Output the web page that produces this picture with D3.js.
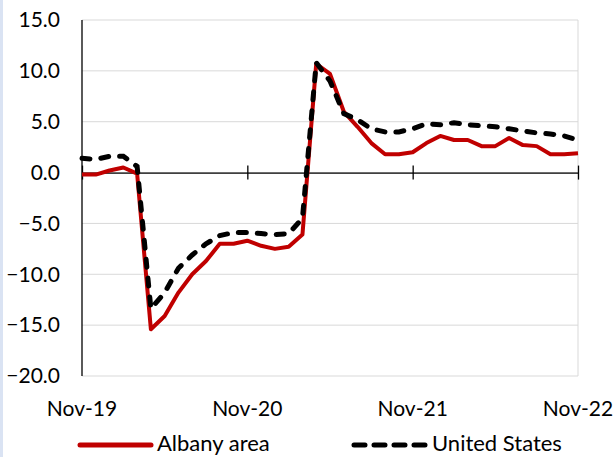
<!DOCTYPE html>
<html>
<head>
<meta charset="utf-8">
<script src="https://cdn.jsdelivr.net/npm/d3@7"></script>
<style>
    body { margin: 0; background: #fff; }
    svg { display: block; font-family: Lato, "Open Sans", sans-serif; }
</style>
</head>
<body>
<script>
//month labels shown on the x axis
var monthTicks = ["Nov-19", "Nov-20", "Nov-21", "Nov-22"];

//y axis tick values
var yTicks = [-20, -15, -10, -5, 0, 5, 10, 15];

//series names
var seriesNames = ["Albany area", "United States"];

//monthly values, Nov-19 to Nov-22
var albany = [-0.2, -0.2, 0.2, 0.5, -0.1, -15.4, -14.1, -11.8, -10.0, -8.7,
    -7.0, -7.0, -6.7, -7.2, -7.5, -7.3, -6.1, 10.7, 9.7, 6.0,
    4.5, 2.9, 1.8, 1.8, 2.0, 2.9, 3.6, 3.2, 3.2, 2.6,
    2.6, 3.4, 2.7, 2.6, 1.8, 1.8, 1.9];

var unitedStates = [1.4, 1.3, 1.6, 1.6, 0.6, -13.4, -11.8, -9.4, -8.1, -7.0,
    -6.2, -5.9, -5.9, -6.0, -6.1, -6.0, -4.5, 10.8, 9.0, 5.8,
    5.2, 4.3, 4.0, 4.0, 4.3, 4.8, 4.7, 4.9, 4.7, 4.6,
    4.5, 4.3, 4.1, 3.9, 3.8, 3.6, 3.2];

function init() {
    var svg, xScale, yScale, line, legend;

    //plot area edges
    var left = 82, right = 578, top = 20, bottom = 376;

    svg = d3.select("body")
        .append("svg")
        .attr("width", 616)
        .attr("height", 457);

    //light blue strip on the left edge
    svg.append("rect")
        .attr("x", 0).attr("y", 0)
        .attr("width", 3).attr("height", 457)
        .style("fill", "#dae3f3");

    //x scale, one step per month
    xScale = d3.scaleLinear()
        .domain([0, albany.length - 1])
        .range([left, right]);

    //y scale
    yScale = d3.scaleLinear()
        .domain([-20, 15])
        .range([bottom, top]);

    //gridlines
    svg.append("g")
        .selectAll("line")
        .data(yTicks)
        .enter()
        .append("line")
        .attr("x1", left)
        .attr("x2", right)
        .attr("y1", function (d) { return yScale(d); })
        .attr("y2", function (d) { return yScale(d); })
        .style("stroke", "#d9d9d9")
        .style("stroke-width", 1);

    //right border of the plot
    svg.append("line")
        .attr("x1", right).attr("x2", right)
        .attr("y1", top).attr("y2", bottom)
        .style("stroke", "#d9d9d9");

    //y axis labels
    svg.append("g")
        .selectAll("text")
        .data(yTicks)
        .enter()
        .append("text")
        .attr("x", 60)
        .attr("y", function (d) { return yScale(d); })
        .attr("dy", "0.35em")
        .attr("text-anchor", "end")
        .style("font-size", "21px")
        .style("fill", "#000")
        .text(function (d) { return d3.format(".1f")(d); });

    //y axis line
    svg.append("line")
        .attr("x1", left).attr("x2", left)
        .attr("y1", top).attr("y2", bottom)
        .style("stroke", "#000")
        .style("stroke-width", 1.3);

    //x axis at zero with cross ticks every 12 months
    var xAxis = d3.axisBottom(xScale)
        .tickValues([0, 12, 24, 36])
        .tickSize(0)
        .tickFormat("");

    var xg = svg.append("g")
        .attr("transform", "translate(0," + yScale(0) + ")")
        .call(xAxis);
    xg.select(".domain").style("stroke", "#000").style("stroke-width", 1.3);

    xg.selectAll(".tick")
        .append("line")
        .attr("y1", -7)
        .attr("y2", 7)
        .style("stroke", "#000")
        .style("stroke-width", 1.3);

    //x labels at the bottom
    svg.append("g")
        .selectAll("text")
        .data(monthTicks)
        .enter()
        .append("text")
        .attr("x", function (d, i) { return xScale(i * 12); })
        .attr("y", 416)
        .attr("text-anchor", "middle")
        .style("font-size", "21px")
        .style("fill", "#000")
        .text(function (d) { return d; });

    //line generator
    line = d3.line()
        .x(function (d, i) { return xScale(i); })
        .y(function (d) { return yScale(d); });

    //Albany line
    svg.append("path")
        .datum(albany)
        .attr("d", line)
        .style("fill", "none")
        .style("stroke", "#c00000")
        .style("stroke-width", 4)
        .style("stroke-linejoin", "round");

    //United States dashed line
    svg.append("path")
        .datum(unitedStates)
        .attr("d", line)
        .style("fill", "none")
        .style("stroke", "#000")
        .style("stroke-width", 5)
        .style("stroke-linecap", "round")
        .style("stroke-dasharray", "8,11");

    //legend
    legend = svg.append("g");

    legend.append("line")
        .attr("x1", 80).attr("x2", 151)
        .attr("y1", 445).attr("y2", 445)
        .style("stroke", "#c00000")
        .style("stroke-width", 5)
        .style("stroke-linecap", "round");

    legend.append("text")
        .attr("x", 157).attr("y", 451)
        .style("font-size", "22px")
        .text(seriesNames[0]);

    legend.append("line")
        .attr("x1", 354).attr("x2", 426)
        .attr("y1", 445).attr("y2", 445)
        .style("stroke", "#000")
        .style("stroke-width", 5)
        .style("stroke-linecap", "round")
        .style("stroke-dasharray", "11,9");

    legend.append("text")
        .attr("x", 432).attr("y", 451)
        .style("font-size", "22px")
        .text(seriesNames[1]);
}

window.onload = init;
</script>
</body>
</html>
